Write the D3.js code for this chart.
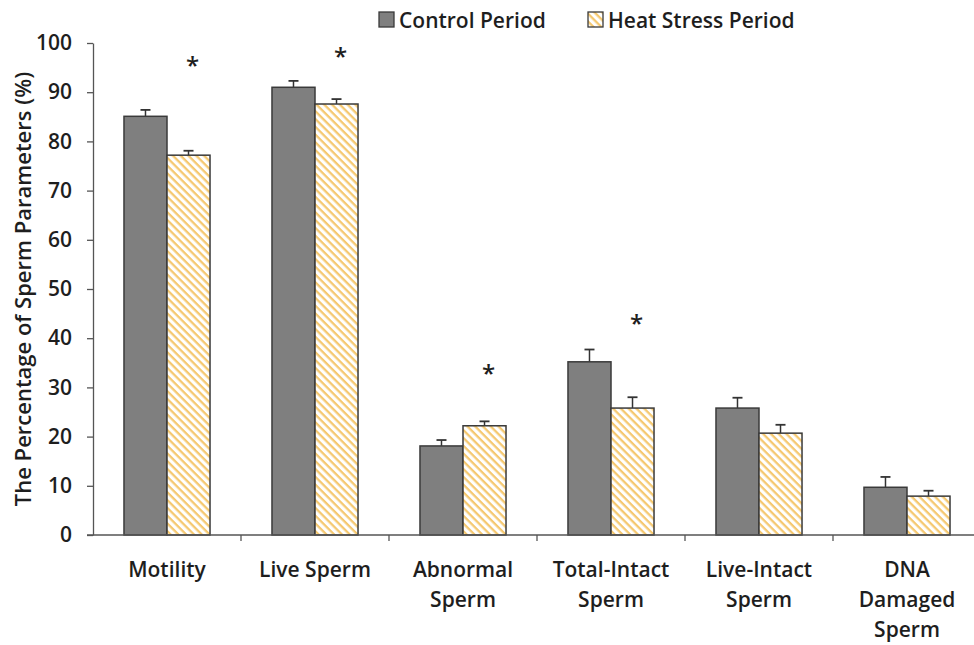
<!DOCTYPE html>
<html>
<head>
<meta charset="utf-8">
<script src="https://d3js.org/d3.v7.min.js"></script>
<style>
  body { margin: 0; background: #fff; }
  text { font-family: "Open Sans", "Noto Sans", sans-serif; fill: #1e1e1e; font-weight: 600; }
</style>
</head>
<body>
<div id="chart"></div>
<script>
// Données
const categories = ["Motility", "Live Sperm", "Abnormal Sperm", "Total-Intact Sperm", "Live-Intact Sperm", "DNA Damaged Sperm"];
const catLines = [["Motility"], ["Live Sperm"], ["Abnormal", "Sperm"], ["Total-Intact", "Sperm"], ["Live-Intact", "Sperm"], ["DNA", "Damaged", "Sperm"]];
const series = ["Control Period", "Heat Stress Period"];
const controlValues = [85.1, 91.0, 18.1, 35.2, 25.8, 9.7];
const controlErrors = [1.3, 1.3, 1.2, 2.5, 2.1, 2.1];
const heatValues = [77.2, 87.6, 22.2, 25.8, 20.7, 7.9];
const heatErrors = [0.9, 1.0, 0.9, 2.2, 1.7, 1.1];
// hauteur (en %) des astérisques de significativité, null = pas de différence
const starLevel = [96.3, 98.2, 33.8, 44.0, null, null];
const yTicks = [0, 10, 20, 30, 40, 50, 60, 70, 80, 90, 100];

const W = 974, H = 645;
const margin = { top: 43, left: 93 };
const plotW = 888, plotH = 492;

const svg = d3.select("#chart").append("svg")
  .attr("width", W).attr("height", H);

// Motif hachuré
const defs = svg.append("defs");
const pat = defs.append("pattern")
  .attr("id", "hatch").attr("patternUnits", "userSpaceOnUse")
  .attr("width", 5.5).attr("height", 5.5)
  .attr("patternTransform", "rotate(45)");
pat.append("rect").attr("width", 5.5).attr("height", 5.5).attr("fill", "#fff");
pat.append("rect").attr("width", 5.5).attr("height", 2.3).attr("fill", "#f5c870");

const g = svg.append("g").attr("transform", `translate(${margin.left},${margin.top})`);

const y = d3.scaleLinear().domain([0, 100]).range([plotH, 0]);
const x0 = d3.scaleBand().domain(categories).range([0, plotW]).paddingInner(0).paddingOuter(0);
const x1 = d3.scaleBand().domain(series).range([0, x0.bandwidth()]).paddingOuter(0.72).paddingInner(0);

const color = { "Control Period": "#7f7f7f", "Heat Stress Period": "url(#hatch)" };

const rows = categories.map((c, i) => ({
  category: c,
  star: starLevel[i],
  values: [
    { key: series[0], value: controlValues[i], err: controlErrors[i] },
    { key: series[1], value: heatValues[i], err: heatErrors[i] }
  ]
}));

const groups = g.selectAll(".category").data(rows).enter().append("g")
  .attr("class", "category")
  .attr("transform", d => `translate(${x0(d.category)},0)`);

// Barres d'erreur
groups.selectAll(".err").data(d => d.values).enter().append("g")
  .attr("class", "err")
  .each(function(d) {
    const cx = x1(d.key) + x1.bandwidth() / 2;
    const e = d3.select(this);
    e.append("line").attr("x1", cx).attr("x2", cx)
      .attr("y1", y(d.value)).attr("y2", y(d.value + d.err))
      .attr("stroke", "#333").attr("stroke-width", 1.5);
    e.append("line").attr("x1", cx - 5).attr("x2", cx + 5)
      .attr("y1", y(d.value + d.err)).attr("y2", y(d.value + d.err))
      .attr("stroke", "#333").attr("stroke-width", 1.8);
  });

groups.selectAll("rect").data(d => d.values).enter().append("rect")
  .attr("x", d => x1(d.key))
  .attr("y", d => y(d.value))
  .attr("width", x1.bandwidth())
  .attr("height", d => y(0) - y(d.value))
  .attr("fill", d => color[d.key])
  .attr("stroke", "#3a3a3a").attr("stroke-width", 1.5);

// Astérisques
groups.filter(d => d.star !== null).append("text")
  .attr("x", x1(series[1]) + x1.bandwidth() / 2 + 4)
  .attr("y", d => y(d.star) + 13)
  .attr("text-anchor", "middle")
  .attr("font-size", 24).attr("font-weight", "bold")
  .text("*");

// Axe y
const yAxis = g.append("g").call(d3.axisLeft(y).tickValues(yTicks).tickSize(6).tickSizeOuter(0));
yAxis.select(".domain").attr("stroke", "#555").attr("stroke-width", 1.3);
yAxis.selectAll(".tick line").attr("stroke", "#555").attr("stroke-width", 1.3);
yAxis.selectAll(".tick text").attr("font-size", 21).attr("x", -21)
  .style("font-family", "'Open Sans', sans-serif").style("font-weight", 600).attr("fill", "#1e1e1e");

// Axe x
const xAxisG = g.append("g").attr("transform", `translate(0,${y(0)})`);
xAxisG.append("line").attr("x1", -6).attr("x2", plotW).attr("y1", 0).attr("y2", 0)
  .attr("stroke", "#555").attr("stroke-width", 1.3);
xAxisG.selectAll(".xtick").data(categories).enter().append("line")
  .attr("x1", d => x0(d) + x0.bandwidth()).attr("x2", d => x0(d) + x0.bandwidth())
  .attr("y1", 0).attr("y2", 6).attr("stroke", "#555").attr("stroke-width", 1.3);

xAxisG.selectAll(".xlab").data(categories).enter().append("text")
  .attr("text-anchor", "middle")
  .attr("font-size", 21)
  .attr("transform", d => `translate(${x0(d) + x0.bandwidth() / 2},${42})`)
  .each(function(d, i) {
    d3.select(this).selectAll("tspan").data(catLines[i]).enter().append("tspan")
      .attr("x", 0).attr("dy", (t, j) => j === 0 ? 0 : 30).text(t => t);
  });

// Titre axe y
svg.append("text")
  .attr("transform", `translate(31,${margin.top + 246}) rotate(-90)`)
  .attr("text-anchor", "middle").attr("font-size", 22)
  .text("The Percentage of Sperm Parameters (%)");

// Légende
const legendX = [379, 588];
const leg = svg.selectAll(".legend").data(series).enter().append("g")
  .attr("transform", (d, i) => `translate(${legendX[i]},12)`);
leg.append("rect").attr("width", 15).attr("height", 15)
  .attr("fill", d => color[d]).attr("stroke", "#3a3a3a").attr("stroke-width", 1.3);
leg.append("text").attr("x", 20).attr("y", 16).attr("font-size", 21).text(d => d);
</script>
</body>
</html>
